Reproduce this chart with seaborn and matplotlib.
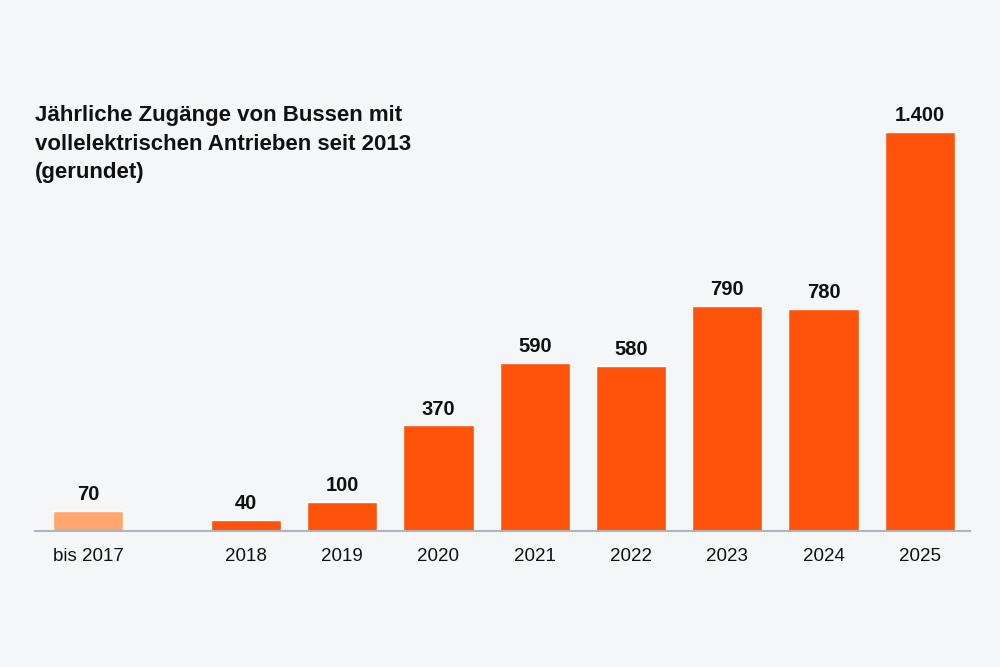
import matplotlib
matplotlib.use("Agg")
import matplotlib.pyplot as plt
import seaborn as sns
import pandas as pd

# chart data
labels = ["bis 2017", "2018", "2019", "2020", "2021", "2022", "2023", "2024", "2025"]
values = [70, 40, 100, 370, 590, 580, 790, 780, 1400]
colors = ["#ffa66e"] + ["#ff520a"] * 8
title = "Jährliche Zugänge von Bussen mit\nvollelektrischen Antrieben seit 2013\n(gerundet)"

# the cumulative "bis 2017" bar stands apart from the yearly bars
gap = 1.64
pos = [0.0] + [gap + i for i in range(len(labels) - 1)]

df = pd.DataFrame({"pos": pos, "label": labels, "value": values})

sns.set_style("white")
plt.rcParams["font.family"] = ["Liberation Sans", "DejaVu Sans"]

bg = "#f5f6f8"
fig = plt.figure(figsize=(10, 6.67), dpi=100, facecolor=bg)
ax = fig.add_axes([0.035, 0.204, 0.935, 0.646], facecolor=bg)

sns.barplot(
    data=df, x="pos", y="value", hue="label", palette=colors,
    native_scale=True, width=0.73, legend=False, ax=ax, saturation=1,
)

for cont in ax.containers:
    ax.bar_label(
        cont, labels=[f"{v:,.0f}".replace(",", ".") for v in cont.datavalues],
        padding=5, fontsize=14.5, fontweight="bold", color="#111111",
    )

ax.set_xlim(-0.55, 9.16)
ax.set_ylim(0, 1512)
ax.set_xticks(pos)
ax.set_xticklabels(labels, fontsize=13.5, color="#111111")
ax.tick_params(axis="x", length=0, pad=12)
ax.set_yticks([])
ax.set_xlabel("")
ax.set_ylabel("")
for s in ["top", "left", "right"]:
    ax.spines[s].set_visible(False)
ax.spines["bottom"].set_color("#aeb3bd")
ax.spines["bottom"].set_linewidth(1.5)

fig.text(0.035, 0.842, title, fontsize=16, fontweight="bold",
         color="#111111", va="top", ha="left", linespacing=1.45)

fig.savefig("out.png", dpi=100, facecolor=bg)
